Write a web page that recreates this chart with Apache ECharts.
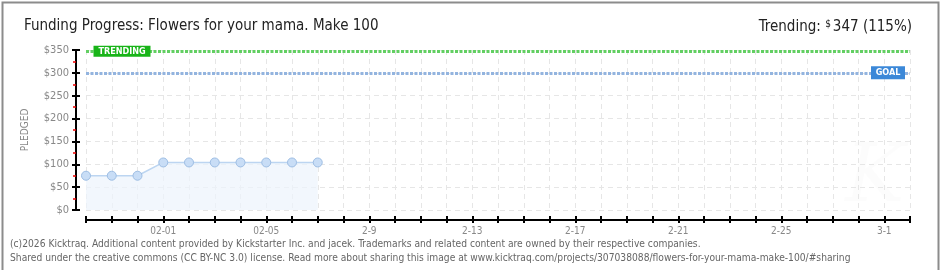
<!DOCTYPE html>
<html><head><meta charset="utf-8">
<script src="https://cdn.jsdelivr.net/npm/echarts@6/dist/echarts.min.js"></script>
<style>html,body{margin:0;padding:0;background:#fff}#c{width:940px;height:270px}</style>
</head><body><div id="c"></div>
<script>
const dates = ['01-29','01-30','01-31','02-01','02-02','02-03','02-04','02-05','02-06','02-07','02-08','02-09','02-10','02-11','02-12','02-13','02-14','02-15','02-16','02-17','02-18','02-19','02-20','02-21','02-22','02-23','02-24','02-25','02-26','02-27','02-28','03-01','03-02'];
const pledged = [75,75,75,104,104,104,104,104,104,104];
const labelDates = ['02-01','02-05','02-09','02-13','02-17','02-21','02-25','03-01'];
const labelTexts = ['02-01','02-05','2-9','2-13','2-17','2-21','2-25','3-1'];
const yTicks = [0,50,100,150,200,250,300,350];
const trendingValue = 347;
const goalValue = 300;
const titleText = 'Funding Progress: Flowers for your mama. Make 100';
const footer1 = '(c)2026 Kicktraq. Additional content provided by Kickstarter Inc. and jacek. Trademarks and related content are owned by their respective companies.';
const footer2 = 'Shared under the creative commons (CC BY-NC 3.0) license. Read more about sharing this image at www.kicktraq.com/projects/307038088/flowers-for-your-mama-make-100/#sharing';

const chart = echarts.init(document.getElementById('c'));
const F = 'DejaVu Sans Condensed';
const xLabel = (v) => { const i = labelDates.indexOf(v); return i >= 0 ? labelTexts[i] : ''; };
const yMin = yTicks[0], yMax = yTicks[yTicks.length-1], yInt = yTicks[1]-yTicks[0];
const gridBox = {left: 86, right: 30, top: 50, bottom: 60};

chart.setOption({
  animation: false,
  title: [{
    text: titleText, left: 19, top: 14,
    textStyle: {fontFamily: F, fontSize: 15, fontWeight: 'normal', color: '#222'}
  }, {
    text: '{l|Trending: }{s|$}{l|' + trendingValue + ' (' + Math.floor(trendingValue/goalValue*100) + '%)}',
    right: 23, top: 14,
    textStyle: {fontWeight: 'normal', fontFamily: F, fontSize: 15, color: '#222', rich: {
      l: {fontFamily: F, fontSize: 15, fontWeight: 'normal', color: '#222'},
      s: {fontFamily: F, fontSize: 10, fontWeight: 'normal', color: '#222', verticalAlign: 'top', padding:[0,2,6,0]}
    }}
  }],
  grid: [Object.assign({}, gridBox), Object.assign({}, gridBox)],
  xAxis: [{
    type: 'category', data: dates, boundaryGap: false, offset: 10, gridIndex: 0, position: 'bottom',
    axisLine: {onZero: false, lineStyle: {color: '#000', width: 2}},
    axisTick: {interval: 0, length: 3, lineStyle: {color: '#000', width: 2}},
    axisLabel: {interval: 0, formatter: xLabel, color: '#888', fontFamily: F, fontSize: 10, margin: 6},
    splitLine: {show: true, interval: 0, lineStyle: {color: '#e6e6e6', type: [5,4]}}
  }, {
    type: 'category', data: dates, boundaryGap: false, offset: 10, gridIndex: 1, position: 'bottom',
    axisLine: {show: false, onZero: false},
    axisTick: {interval: 0, length: 4, inside: true, lineStyle: {color: '#000', width: 2}},
    axisLabel: {show: false}, splitLine: {show: false}
  }],
  yAxis: [{
    type: 'value', min: yMin, max: yMax, interval: yInt, offset: 10, gridIndex: 0, position: 'left',
    name: 'PLEDGED', nameLocation: 'middle', nameRotate: 90, nameGap: 46,
    nameTextStyle: {color: '#888', fontFamily: F, fontSize: 10},
    axisLine: {show: true, onZero: false, lineStyle: {color: '#000', width: 2}},
    axisTick: {show: true, length: 4, lineStyle: {color: '#000', width: 2}},
    minorTick: {show: true, splitNumber: 2, length: 3, lineStyle: {color: '#e00', width: 1.5}},
    axisLabel: {formatter: v => '$' + v, color: '#888', fontFamily: F, fontSize: 11, margin: 7},
    splitLine: {show: true, lineStyle: {color: '#e6e6e6', type: [5,4]}}
  }, {
    type: 'value', min: yMin, max: yMax, interval: yInt, offset: 10, gridIndex: 1, position: 'left',
    axisLine: {show: false, onZero: false},
    axisTick: {show: true, inside: true, length: 4, lineStyle: {color: '#000', width: 2}},
    axisLabel: {show: false}, splitLine: {show: false}
  }],
  series: [{
    type: 'line', data: pledged, xAxisIndex: 0, yAxisIndex: 0,
    symbol: 'circle', symbolSize: 9,
    itemStyle: {color: '#c8ddf6', borderColor: '#9dbde3', borderWidth: 1},
    lineStyle: {color: '#bcd5f1', width: 1.5},
    areaStyle: {color: '#edf4fc'},
    markLine: {
      silent: true, symbol: 'none', label: {show: false},
      data: [
        {yAxis: trendingValue, lineStyle: {color: '#62cf62', width: 3, type: [3,1.5]}},
        {yAxis: goalValue, lineStyle: {color: '#93b4df', width: 3, type: [3,1.5]}}
      ]
    },
    markPoint: {
      silent: true,
      data: [
        {coord: [dates[0], trendingValue], symbol: 'rect', symbolSize: [57, 11], symbolOffset: [36, 0],
         itemStyle: {color: '#18b418'},
         label: {show: true, formatter: 'TRENDING', color: '#fff', fontFamily: F, fontSize: 9, fontWeight: 'bold'}},
        {coord: [dates[dates.length-1], goalValue], symbol: 'rect', symbolSize: [34, 13], symbolOffset: [-22, 0],
         itemStyle: {color: '#3b88d8'},
         label: {show: true, formatter: 'GOAL', color: '#fff', fontFamily: F, fontSize: 9, fontWeight: 'bold'}}
      ]
    }
  }, {
    type: 'line', data: [], xAxisIndex: 1, yAxisIndex: 1
  }],
  graphic: [
    {type: 'text', left: 845, top: 140, silent: true, z: -1,
     style: {text: 'K', font: 'italic 80px DejaVu Serif', fill: 'rgba(0,0,0,0.012)'}},
    {type: 'text', left: 10, top: 239, silent: true,
     style: {text: footer1, font: '10.2px "DejaVu Sans Condensed"', fill: '#666'}},
    {type: 'text', left: 10, top: 253, silent: true,
     style: {text: footer2, font: '10.2px "DejaVu Sans Condensed"', fill: '#666'}},
    {type: 'rect', left: 0, top: 0, silent: true,
     shape: {x: 0, y: 0, width: 936, height: 269},
     style: {fill: 'none', stroke: '#8c8c8c', lineWidth: 2}}
  ]
});
</script></body></html>
